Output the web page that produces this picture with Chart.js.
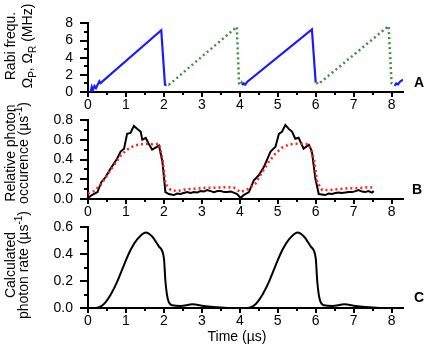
<!DOCTYPE html>
<html>
<head>
<meta charset="utf-8">
<script src="https://cdn.jsdelivr.net/npm/chart.js@4"></script>
<style>
  body { margin: 0; background: #fff; }
  #wrap { position: relative; width: 425px; height: 350px; font-family: 'Liberation Sans', Arial, sans-serif; color: #000; }
  canvas { position: absolute; left: 0; top: 0; }
  .yt { position: absolute; white-space: nowrap; text-align: center; font-size: 14px; line-height: 13px;
        transform: translate(-50%, -50%) rotate(-90deg); }
  .tag { position: absolute; font-weight: bold; font-size: 14px; transform: translate(-50%, -50%); }
  .xt { position: absolute; font-size: 14px; white-space: nowrap; transform: translate(-50%, -50%); }
  sub, sup { font-size: 10px; line-height: 0; }
</style>
</head>
<body>
<div id="wrap">
  <canvas id="panelA" width="425" height="350"></canvas>
  <canvas id="panelB" width="425" height="350"></canvas>
  <canvas id="panelC" width="425" height="350"></canvas>
  <div class="yt" style="left:19px;top:46px;line-height:17px;">Rabi frequ.<br>&Omega;<sub>P</sub>, &Omega;<sub>R</sub> (MHz)</div>
  <div class="yt" style="left:17px;top:153px;">Relative photon<br>occurence (&micro;s<sup>-1</sup>)</div>
  <div class="yt" style="left:17px;top:265px;">Calculated<br>photon rate (&micro;s<sup>-1</sup>)</div>
  <div class="tag" style="left:419px;top:82px;">A</div>
  <div class="tag" style="left:417px;top:189px;">B</div>
  <div class="tag" style="left:419px;top:297px;">C</div>
  <div class="xt" style="left:237px;top:336px;">Time (&micro;s)</div>
</div>
<script>
// shared x axis (time in µs)
const X_TICKS = [0, 1, 2, 3, 4, 5, 6, 7, 8];

// A: Rabi frequencies (null = gap between pulses)
const A_TICKS = [0, 2, 4, 6, 8];
const blueX = [0.07, 0.1, 0.13, 0.17, 0.21, 0.26, 0.3, 0.33, 1.93, 2.03, 3.0, 4.06, 4.1, 4.14, 4.2, 5.9, 6.0, 7.0, 8.08, 8.12, 8.17, 8.22, 8.3];
const blueY = [0.0, 0.6, 0.25, 0.7, 0.45, 0.9, 1.25, 1.05, 7.2, 0.75, null, 0.8, 1.0, 0.85, 1.2, 7.3, 1.1, null, 0.7, 1.0, 0.9, 1.2, 1.45];
const greenX = [2.03, 2.08, 2.13, 2.2, 3.92, 3.98, 4.01, 4.05, 4.1, 5.0, 6.02, 6.07, 6.12, 7.92, 8.0, 8.05];
const greenY = [0.75, 1.0, 0.85, 1.1, 7.6, 1.0, 0.8, 1.1, 0.8, null, 1.1, 0.9, 1.1, 7.7, 1.0, 0.8];

// B: measured photon occurence
const B_TICKS = [0, 0.2, 0.4, 0.6, 0.8];
const measX = [0, 0.1, 0.25, 0.35, 0.46, 0.6, 0.77, 0.86, 0.95, 1.03, 1.12, 1.21, 1.3, 1.39, 1.43, 1.52, 1.6, 1.69, 1.78, 1.87,
  1.96, 2.04, 2.13, 2.26, 2.35, 2.44, 2.52, 2.61, 2.7, 2.79, 2.88, 2.96, 3.05, 3.14, 3.23, 3.32, 3.41, 3.5, 3.59, 3.67,
  3.76, 3.84, 3.93, 4.02, 4.1, 4.24, 4.37, 4.5, 4.63, 4.81, 4.94, 5.03, 5.11, 5.2, 5.29, 5.38, 5.46, 5.55, 5.68, 5.82,
  5.9, 5.99, 6.08, 6.25, 6.34, 6.43, 6.52, 6.6, 6.69, 6.78, 6.87, 6.96, 7.05, 7.13, 7.22, 7.3, 7.39, 7.48, 7.53];
const measY = [0.01, 0.04, 0.07, 0.17, 0.22, 0.31, 0.41, 0.48, 0.51, 0.66, 0.67, 0.74, 0.71, 0.68, 0.6, 0.62, 0.56, 0.5, 0.52, 0.54,
  0.38, 0.07, 0.05, 0.04, 0.055, 0.05, 0.06, 0.07, 0.06, 0.07, 0.065, 0.08, 0.075, 0.09, 0.08, 0.07, 0.08, 0.08, 0.07, 0.07,
  0.075, 0.065, 0.05, 0.01, 0.04, 0.07, 0.19, 0.24, 0.32, 0.48, 0.53, 0.66, 0.68, 0.75, 0.71, 0.68, 0.61, 0.62, 0.51, 0.55,
  0.48, 0.21, 0.05, 0.04, 0.055, 0.05, 0.06, 0.065, 0.06, 0.065, 0.07, 0.07, 0.08, 0.09, 0.075, 0.07, 0.08, 0.065, 0.08];
const fitX = [0, 0.16, 0.33, 0.5, 0.68, 0.86, 1.03, 1.21, 1.39, 1.56, 1.69, 1.87, 1.96, 2.04, 2.18, 2.35, 2.61, 2.88, 3.14, 3.4, 3.67,
  3.84, 4.02, 4.24, 4.41, 4.59, 4.76, 4.94, 5.11, 5.29, 5.46, 5.64, 5.82, 5.95, 6.04, 6.17, 6.34, 6.6, 6.86, 7.13, 7.39, 7.53];
const fitY = [0.055, 0.08, 0.14, 0.24, 0.34, 0.44, 0.5, 0.54, 0.555, 0.56, 0.555, 0.56, 0.41, 0.155, 0.09, 0.08, 0.1, 0.105, 0.115, 0.115, 0.12,
  0.115, 0.07, 0.105, 0.155, 0.27, 0.375, 0.46, 0.52, 0.55, 0.56, 0.56, 0.555, 0.41, 0.17, 0.09, 0.09, 0.1, 0.11, 0.11, 0.12, 0.115];

// C: calculated photon rate
const C_TICKS = [0, 0.2, 0.4, 0.6];
const calcX = [0, 0.2, 0.42, 0.6, 0.77, 0.95, 1.12, 1.3, 1.52, 1.69, 1.87, 2.0, 2.04, 2.1, 2.22, 2.44, 2.75, 3.05, 3.4, 3.75, 4.0,
  4.2, 4.42, 4.6, 4.77, 4.95, 5.12, 5.3, 5.52, 5.69, 5.87, 6.0, 6.04, 6.1, 6.22, 6.44, 6.75, 7.05, 7.4, 7.75, 8.0];
const calcY = [0, 0, 0.03, 0.1, 0.195, 0.32, 0.43, 0.51, 0.56, 0.53, 0.455, 0.37, 0.2, 0.07, 0.02, 0.015, 0.027, 0.015, 0.005, 0, 0,
  0, 0.03, 0.1, 0.195, 0.32, 0.43, 0.51, 0.56, 0.53, 0.455, 0.37, 0.2, 0.07, 0.02, 0.015, 0.027, 0.015, 0.005, 0, 0];

const pts = (xs, ys) => xs.map((x, i) => ({ x: x, y: ys[i] }));

// outward major + shorter minor tick marks
const axisTicks = {
  id: 'axisTicks',
  afterDraw(chart) {
    const { ctx, chartArea: a, scales } = chart;
    ctx.save();
    ctx.strokeStyle = '#000';
    ctx.lineWidth = 2;
    const mark = (s, v, len) => {
      const p = Math.round(s.getPixelForValue(v));
      ctx.beginPath();
      if (s.isHorizontal()) { ctx.moveTo(p, a.bottom); ctx.lineTo(p, a.bottom + len); }
      else { ctx.moveTo(a.left, p); ctx.lineTo(a.left - len, p); }
      ctx.stroke();
    };
    [[scales.x, 5, 3], [scales.y, 8, 4]].forEach(([s, major, minor]) => {
      const vals = s.ticks.map(t => t.value);
      vals.forEach((v, i) => {
        mark(s, v, major);
        if (i < vals.length - 1) mark(s, (v + vals[i + 1]) / 2, minor);
      });
    });
    ctx.restore();
  }
};

Chart.defaults.font.family = "'Liberation Sans', Arial, sans-serif";
Chart.defaults.color = '#000';

function makePanel(id, top, bottom, yTicks, yMax, digits, datasets) {
  return new Chart(document.getElementById(id), {
    type: 'line',
    data: { datasets: datasets },
    options: {
      responsive: false,
      animation: false,
      events: [],
      layout: { padding: { top: top, right: 22, left: 0, bottom: 0 } },
      plugins: { legend: { display: false }, tooltip: { enabled: false } },
      elements: { point: { radius: 0 } },
      scales: {
        x: {
          type: 'linear', min: 0, max: 8.3,
          afterBuildTicks: s => { s.ticks = X_TICKS.map(v => ({ value: v })); },
          afterFit: s => { s.height = 350 - bottom; },
          grid: { drawOnChartArea: false, drawTicks: false },
          border: { display: true, color: '#000', width: 2 },
          ticks: { padding: 5, font: { size: 14 }, maxRotation: 0, autoSkip: false, callback: v => String(v) }
        },
        y: {
          type: 'linear', min: 0, max: yMax,
          afterBuildTicks: s => { s.ticks = yTicks.map(v => ({ value: v })); },
          afterFit: s => { s.width = 88; },
          grid: { drawOnChartArea: false, drawTicks: false },
          border: { display: true, color: '#000', width: 2 },
          ticks: { padding: 15, font: { size: 14 }, autoSkip: false, callback: v => v.toFixed(digits) }
        }
      }
    },
    plugins: [axisTicks]
  });
}

makePanel('panelA', 11, 92, A_TICKS, 8, 0, [
  { data: pts(blueX, blueY), borderColor: '#1a1aff', borderWidth: 2.2, tension: 0 },
  { data: pts(greenX, greenY), borderColor: '#3c8f3c', borderWidth: 2.5, borderDash: [2, 3], tension: 0 }
]);

makePanel('panelB', 120, 199, B_TICKS, 0.8, 1, [
  { data: pts(fitX, fitY), borderColor: '#ff2020', borderWidth: 2.5, borderDash: [2, 3], tension: 0 },
  { data: pts(measX, measY), borderColor: '#000', borderWidth: 2, tension: 0 }
]);

makePanel('panelC', 227, 308, C_TICKS, 0.6, 1, [
  { data: pts(calcX, calcY), borderColor: '#000', borderWidth: 2, cubicInterpolationMode: 'monotone' }
]);
</script>
</body>
</html>
